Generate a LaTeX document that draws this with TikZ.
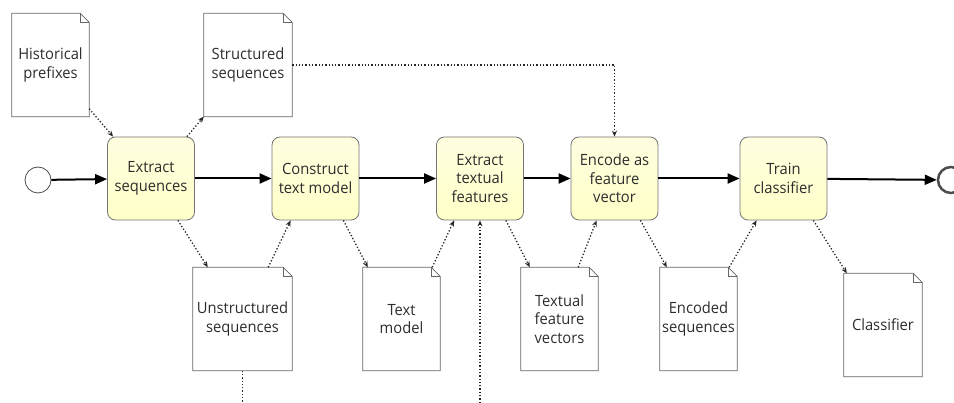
\documentclass[tikz,border=0pt]{standalone}
\usepackage{fontspec}
\setmainfont{Open Sans}[FakeStretch=0.95]
\usepackage{tikz}
\usetikzlibrary{shapes,arrows.meta,calc}
\definecolor{taskfill}{RGB}{255,255,200}
\definecolor{ink}{RGB}{45,45,45}
\def\docu#1#2#3#4{\node[doc,minimum width=#3] (#1) at (#2) {#4};
  \draw[docline] (#1.north west) -- ([xshift=-9pt]#1.north east) -- ([yshift=-9pt]#1.north east) -- (#1.south east) -- (#1.south west) -- cycle;
  \draw[docline] ([xshift=-9pt]#1.north east) |- ([yshift=-9pt]#1.north east)}
\tikzstyle{txt}=[text=ink,font=\fontsize{15.5}{18.5}\selectfont,align=center,inner sep=0pt]
\tikzstyle{task}=[txt,draw=black!55,line width=0.8pt,rounded corners=8pt,minimum width=87pt,minimum height=83pt,top color=taskfill!55,bottom color=taskfill]
\tikzstyle{doc}=[txt,minimum height=103pt]
\tikzstyle{docline}=[draw=black!60,line width=0.8pt]
\tikzstyle{event}=[circle,draw=black!70,minimum size=26pt,inner sep=0pt]
\tikzstyle{flow}=[line width=2pt,-{Triangle[length=12pt,width=10pt]}]
\tikzstyle{assoc}=[black!85,dotted,line width=1.3pt,-{Stealth[open,length=6pt,width=5pt]}]

\begin{document}
\begin{tikzpicture}[x=1pt,y=-1pt]
    \useasboundingbox (0,0) rectangle (954,403);
    \node[event,line width=0.8pt] (start) at (38,180) {};
    \node[task] (ext) at (151,178.5) {Extract\\sequences};
    \node[task] (con) at (315.5,178.5) {Construct\\text model};
    \node[task] (feat) at (480,178.5) {Extract\\textual\\features};
    \node[task] (enc) at (614.5,178.5) {Encode as\\feature\\vector};
    \node[task] (train) at (783.5,178.5) {Train\\classifier};
    \node[event,line width=2.5pt] (end) at (951,180) {};
    \docu{hist}{50.5,65}{77pt}{Historical\\prefixes};
    \docu{struct}{248,65}{88pt}{Structured\\sequences};
    \docu{unstr}{242.5,319}{99pt}{Unstructured\\sequences};
    \docu{tmod}{401.5,319}{77pt}{Text\\model};
    \docu{tfv}{559.5,319}{77pt}{Textual\\feature\\vectors};
    \docu{encs}{698.5,319}{77pt}{Encoded\\sequences};
    \docu{clf}{883,325}{78pt}{Classifier};
    \coordinate (in) at (480,403);
    \coordinate (out) at (242.5,403);
    \draw[flow] (start) -- (ext);
    \draw[flow] (ext) -- (con);
    \draw[flow] (con) -- (feat);
    \draw[flow] (feat) -- (enc);
    \draw[flow] (enc) -- (train);
    \draw[flow] (train) -- (end);
    \draw[assoc] ([yshift=8pt]hist.south east) -- ([xshift=6pt]ext.north west);
    \draw[assoc] ([xshift=-8pt]ext.north east) -- (struct.south west);
    \draw[assoc] (struct.east) -| (enc.north);
    \draw[assoc] ([xshift=-17pt]ext.south east) -- ([xshift=15pt]unstr.north west);
    \draw[assoc] ([xshift=-24pt]unstr.north east) -- ([xshift=19pt]con.south west);
    \draw[assoc] ([xshift=-16pt]con.south east) -- ([xshift=5pt]tmod.north west);
    \draw[assoc] ([xshift=-8pt]tmod.north east) -- ([xshift=18pt]feat.south west);
    \draw[assoc] (in) -- (feat.south);
    \draw[black!85,dotted,line width=1.3pt] (unstr.south) -- (out);
    \draw[assoc] ([xshift=-18pt]feat.south east) -- ([xshift=9pt]tfv.north west);
    \draw[assoc] ([xshift=-20pt]tfv.north east) -- ([xshift=26pt]enc.south west);
    \draw[assoc] ([xshift=-18pt]enc.south east) -- ([xshift=7pt]encs.north west);
    \draw[assoc] ([xshift=-8pt]encs.north east) -- ([xshift=17pt]train.south west);
    \draw[assoc] ([xshift=-14pt]train.south east) -- ([xshift=3pt]clf.north west);
  \end{tikzpicture}
\end{document}
